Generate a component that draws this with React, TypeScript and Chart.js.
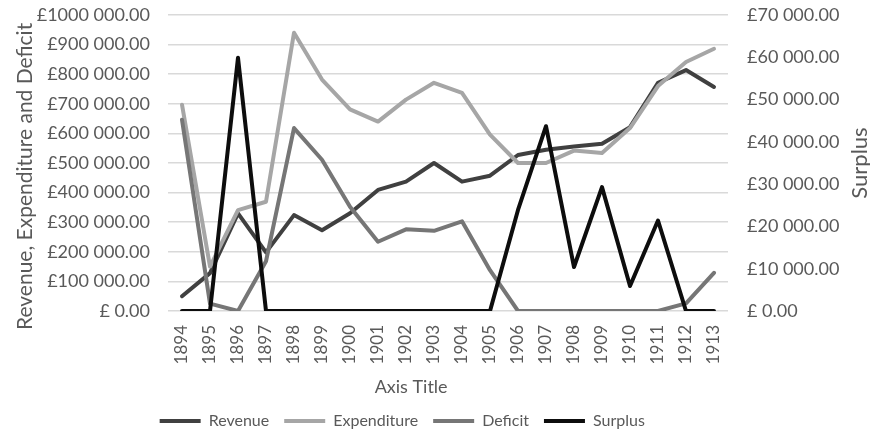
import { useEffect, useRef } from "react";
import { Chart, registerables } from "chart.js";

Chart.register(...registerables);

const years = ["1894", "1895", "1896", "1897", "1898", "1899", "1900", "1901", "1902", "1903", "1904", "1905", "1906", "1907", "1908", "1909", "1910", "1911", "1912", "1913"];
const revenue = [50000, 128000, 330000, 198000, 324000, 273000, 330000, 409000, 437000, 500000, 437000, 457000, 527000, 545000, 556000, 565000, 621000, 771000, 814000, 757000];
const expenditure = [697000, 150000, 341000, 369000, 940000, 782000, 681000, 640000, 714000, 771000, 737000, 596000, 500000, 500000, 542000, 534000, 618000, 760000, 841000, 886000];
const deficit = [646000, 25000, 0, 168000, 618000, 511000, 352000, 234000, 276000, 271000, 303000, 138000, 0, 0, 0, 0, 0, 0, 26000, 129000];
const surplus = [0, 0, 59900, 0, 0, 0, 0, 0, 0, 0, 0, 0, 23900, 43700, 10400, 29300, 5900, 21400, 0, 0];

const leftTickLabels = ["£ 0.00", "£100 000.00", "£200 000.00", "£300 000.00", "£400 000.00", "£500 000.00", "£600 000.00", "£700 000.00", "£800 000.00", "£900 000.00", "£1000 000.00"];
const rightTickLabels = ["£ 0.00", "£10 000.00", "£20 000.00", "£30 000.00", "£40 000.00", "£50 000.00", "£60 000.00", "£70 000.00"];
const leftStep = 100000;
const rightStep = 10000;

const FONT = "Lato";
const TEXT = "#595959";

const rightTitlePlugin = {
  id: "rightTitle",
  afterDraw(chart: any) {
    const s = chart.scales.y1;
    const ctx = chart.ctx;
    ctx.save();
    ctx.translate(s.right - 10, (s.top + s.bottom) / 2);
    ctx.rotate(-Math.PI / 2);
    ctx.textAlign = "center";
    ctx.textBaseline = "middle";
    ctx.font = `22px ${FONT}`;
    ctx.fillStyle = TEXT;
    ctx.fillText("Surplus", 0, 0);
    ctx.restore();
  },
};

export default function App() {
  const ref = useRef<HTMLCanvasElement | null>(null);
  useEffect(() => {
    if (!ref.current) return;
    const line = (label: string, data: number[], color: string, order: number, yAxisID = "y") => ({
      label,
      data,
      borderColor: color,
      backgroundColor: color,
      borderWidth: 4,
      pointRadius: 0,
      tension: 0,
      borderJoinStyle: "round" as const,
      borderCapStyle: "round" as const,
      order,
      yAxisID,
    });
    const chart = new Chart(ref.current, {
      type: "line",
      data: {
        labels: years,
        datasets: [
          line("Revenue", revenue, "#404040", 3),
          line("Expenditure", expenditure, "#a6a6a6", 2),
          line("Deficit", deficit, "#767676", 1),
          line("Surplus", surplus, "#0d0d0d", 0, "y1"),
        ],
      },
      options: {
        animation: false,
        responsive: true,
        maintainAspectRatio: false,
        layout: { padding: { top: 15, left: 0, right: 0, bottom: 0 } },
        plugins: {
          tooltip: { enabled: false },
          legend: {
            position: "bottom",
            labels: {
              font: { family: FONT, size: 16 },
              color: TEXT,
              boxWidth: 41,
              boxHeight: 4,
              padding: 15,
              sort: (a: any, b: any) => a.datasetIndex - b.datasetIndex,
              generateLabels: (c: any) =>
                (Chart.defaults.plugins.legend.labels as any).generateLabels(c).map((l: any) => ({
                  ...l,
                  lineWidth: 0,
                  text: l.text === "Surplus" ? l.text + " ".repeat(16) : l.text,
                })),
            },
          },
        },
        scales: {
          x: {
            offset: true,
            afterFit: (s: any) => {
              s.height = 87;
              s.paddingTop = 0;
              s.paddingBottom = 0;
            },
            grid: { display: false, drawTicks: false },
            border: { display: false },
            ticks: {
              minRotation: 90,
              maxRotation: 90,
              padding: 14,
              font: { family: FONT, size: 17 },
              color: TEXT,
            },
            title: {
              display: true,
              text: "Axis Title" + " ".repeat(16),
              font: { family: FONT, size: 18 },
              color: TEXT,
              padding: { top: 0, bottom: 0 },
            },
          },
          y: {
            position: "left",
            min: 0,
            max: 1000000,
            afterFit: (s: any) => {
              s.width = 168;
              s.paddingTop = 0;
              s.paddingBottom = 0;
            },
            grid: { color: "#d9d9d9", lineWidth: 1.5, drawTicks: false },
            border: { display: false },
            ticks: {
              stepSize: leftStep,
              padding: 18,
              font: { family: FONT, size: 18 },
              color: TEXT,
              callback: (v: any) => leftTickLabels[Math.round(Number(v) / leftStep)],
            },
            title: {
              display: true,
              text: "Revenue, Expenditure and Deficit" + " ".repeat(5),
              font: { family: FONT, size: 21 },
              color: TEXT,
              padding: { top: 13, bottom: 0 },
            },
          },
          y1: {
            position: "right",
            min: 0,
            max: 70000,
            afterFit: (s: any) => {
              s.width = 142;
              s.paddingTop = 0;
              s.paddingBottom = 0;
            },
            grid: { display: false, drawTicks: false },
            border: { display: false },
            ticks: {
              stepSize: rightStep,
              padding: 19,
              font: { family: FONT, size: 18 },
              color: TEXT,
              callback: (v: any) => rightTickLabels[Math.round(Number(v) / rightStep)],
            },
          },
        },
      },
      plugins: [rightTitlePlugin],
    });
    return () => chart.destroy();
  }, []);
  return (
    <div style={{ position: "fixed", left: 0, top: 0, width: 870, height: 439, background: "#fff" }}>
      <canvas ref={ref} />
    </div>
  );
}
